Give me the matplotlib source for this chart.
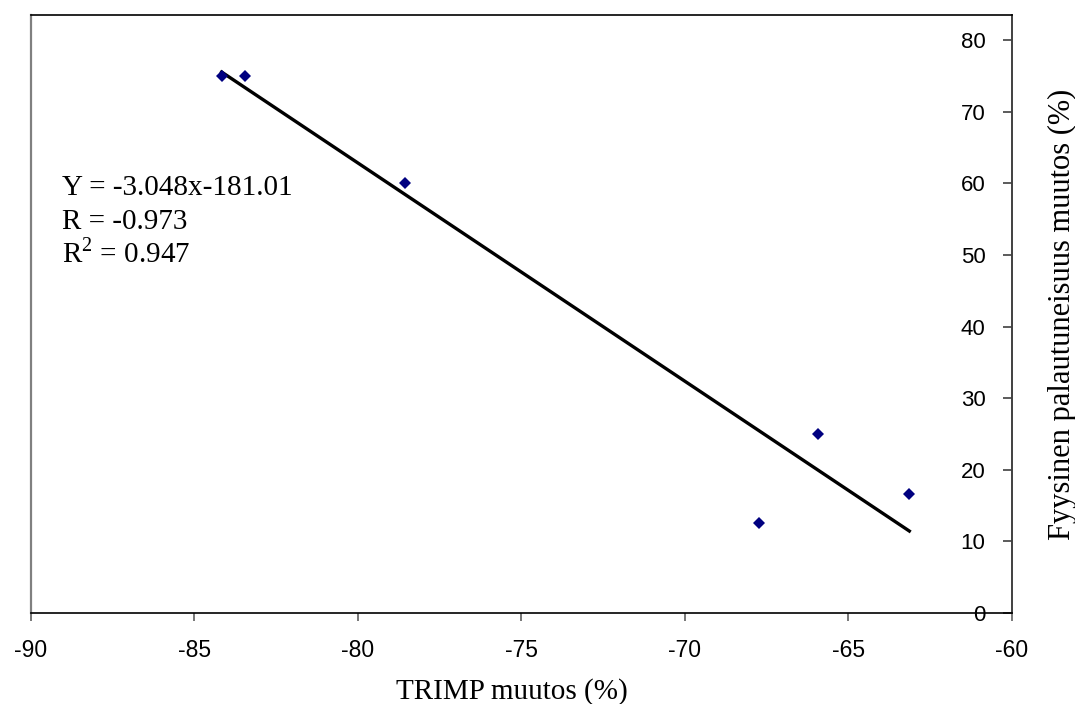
import numpy as np
import matplotlib.pyplot as plt

plt.rcParams['axes.unicode_minus'] = False
plt.rcParams['mathtext.fontset'] = 'custom'
plt.rcParams['mathtext.rm'] = 'Liberation Serif'

# TRIMP change vs. physical recovery change
trimp_muutos = [-84.17, -83.44, -78.57, -67.75, -65.92, -63.14]
palautuminen_muutos = [75, 75, 60, 12.5, 25, 16.67]

# fitted line as reported
kulmakerroin = -3.048
vakio = -181.01
r_arvo = -0.973
r2_arvo = 0.947

x_ticks = [-90, -85, -80, -75, -70, -65, -60]
y_ticks = [0, 10, 20, 30, 40, 50, 60, 70, 80]

fig = plt.figure(figsize=(10.75, 7.04), dpi=100)
ax = fig.add_axes([0.0288, 0.1293, 0.9126, 0.8494])

ax.plot(trimp_muutos, palautuminen_muutos, linestyle='none', marker='D',
        markersize=6, color='#000080', markeredgewidth=0, zorder=3)

# trendline over the data range
xx = np.array([min(trimp_muutos), max(trimp_muutos)])
ax.plot(xx, kulmakerroin * xx + vakio, color='black', lw=2.4, zorder=2)

ax.set_xlim(-90, -60)
ax.set_ylim(0, 83.5)
ax.set_xticks(x_ticks)
ax.set_yticks(y_ticks)

# y axis sits on the right edge, labels inside the plot
ax.yaxis.tick_right()
ax.tick_params(axis='y', direction='in', length=6.5, width=1.2, color='#404040',
               pad=-19, labelsize=16)
for lbl in ax.get_yticklabels():
    lbl.set_horizontalalignment('right')
    lbl.set_fontfamily('Liberation Sans')
ax.tick_params(axis='x', direction='out', length=6, width=1.2, color='#606060',
               pad=13, labelsize=16.5)
for lbl in ax.get_xticklabels():
    lbl.set_fontfamily('Liberation Sans')

ax.spines['left'].set_color('#808080')
ax.spines['left'].set_linewidth(1.6)
ax.spines['right'].set_color('#404040')
ax.spines['right'].set_linewidth(1.4)
ax.spines['top'].set_color('black')
ax.spines['top'].set_linewidth(1.2)
ax.spines['bottom'].set_color('black')
ax.spines['bottom'].set_linewidth(1.2)

serif = 'Liberation Serif'
ax.text(0.49, -0.132, 'TRIMP muutos (%)', transform=ax.transAxes,
        ha='center', va='center', fontsize=21, family=serif)
ax.text(1.051, 0.5, 'Fyysinen palautuneisuus muutos (%)', transform=ax.transAxes,
        ha='center', va='center', rotation=90, fontsize=22, family=serif)

ax.text(-89.05, 59.4, f'Y = {kulmakerroin}x{vakio}', ha='left', va='center',
        fontsize=21, family=serif)
ax.text(-89.05, 54.6, f'R = {r_arvo}', ha='left', va='center',
        fontsize=21, family=serif)
ax.text(-89.05, 50.2, f'R$^{{2}}$ = {r2_arvo}', ha='left', va='center',
        fontsize=21, family=serif)

fig.savefig('out.png', dpi=100)
